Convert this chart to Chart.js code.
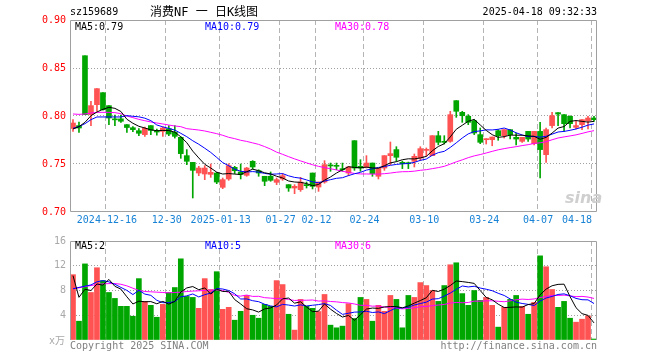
<!DOCTYPE html>
<html><head><meta charset="utf-8">
<script src="https://cdn.jsdelivr.net/npm/chart.js@4.4.1/dist/chart.umd.min.js"></script>
<style>
html,body{margin:0;padding:0;background:#fff;}
body{width:660px;height:360px;position:relative;overflow:hidden;}
canvas{position:absolute;left:0;}
.t{position:absolute;white-space:pre;font-family:"DejaVu Sans Mono","Noto Sans CJK SC",monospace;font-size:10px;line-height:12px;color:#000;}
</style></head><body>
<canvas id="kline" width="660" height="230" style="top:0;width:660px;height:230px"></canvas>
<canvas id="vol" width="660" height="130" style="top:230px;width:660px;height:130px"></canvas>
<div class="t" style="left:70px;top:6px">sz159689</div>
<div class="t" style="left:150px;top:5px;font-size:12px;line-height:14px">消费NF 一 日K线图</div>
<div class="t" style="right:63px;top:6px">2025-04-18 09:32:33</div>
<div class="t" id="pm5" style="left:75px;top:21px"></div>
<div class="t" id="pm10" style="left:205px;top:21px;color:#0000ff"></div>
<div class="t" id="pm30" style="left:335px;top:21px;color:#ff00ff"></div>
<div class="t" id="vm5" style="left:75px;top:240px"></div>
<div class="t" id="vm10" style="left:205px;top:240px;color:#0000ff"></div>
<div class="t" id="vm30" style="left:335px;top:240px;color:#ff00ff"></div>
<div class="t" style="left:49px;top:335px;color:#a8a8a8">x万</div>
<div class="t" style="left:70px;top:340px;color:#808080">Copyright 2025 SINA.COM</div>
<div class="t" style="right:63px;top:340px;color:#808080">http://finance.sina.com.cn</div>
<div class="t" style="left:565px;top:189px;font-family:'DejaVu Sans';font-weight:bold;font-style:italic;font-size:16px;line-height:18px;color:#cfcfcf">sina</div>
<script>
// ---------- data ----------
const dates = [
 "2024-12-06","2024-12-09","2024-12-10","2024-12-11","2024-12-12","2024-12-13","2024-12-16","2024-12-17","2024-12-18","2024-12-19",
 "2024-12-20","2024-12-23","2024-12-24","2024-12-25","2024-12-26","2024-12-27","2024-12-30","2024-12-31","2025-01-02","2025-01-03",
 "2025-01-06","2025-01-07","2025-01-08","2025-01-09","2025-01-10","2025-01-13","2025-01-14","2025-01-15","2025-01-16","2025-01-17",
 "2025-01-20","2025-01-21","2025-01-22","2025-01-23","2025-01-24","2025-01-27","2025-02-05","2025-02-06","2025-02-07","2025-02-10",
 "2025-02-11","2025-02-12","2025-02-13","2025-02-14","2025-02-17","2025-02-18","2025-02-19","2025-02-20","2025-02-21","2025-02-24",
 "2025-02-25","2025-02-26","2025-02-27","2025-02-28","2025-03-03","2025-03-04","2025-03-05","2025-03-06","2025-03-07","2025-03-10",
 "2025-03-11","2025-03-12","2025-03-13","2025-03-14","2025-03-17","2025-03-18","2025-03-19","2025-03-20","2025-03-21","2025-03-24",
 "2025-03-25","2025-03-26","2025-03-27","2025-03-28","2025-03-31","2025-04-01","2025-04-02","2025-04-03","2025-04-07","2025-04-08",
 "2025-04-09","2025-04-10","2025-04-11","2025-04-14","2025-04-15","2025-04-16","2025-04-17","2025-04-18"];

const tickLabels = {6:"2024-12-16",16:"12-30",25:"2025-01-13",35:"01-27",41:"02-12",49:"02-24",59:"03-10",69:"03-24",78:"04-07",87:"04-18"};

const open = [0.787,0.790,0.8628,0.8014,0.8118,0.8243,0.8108,0.797,0.797,0.791,
 0.7878,0.7847,0.7806,0.790,0.7847,0.784,0.7868,0.783,0.7778,0.7587,
 0.7517,0.7406,0.7396,0.7392,0.7406,0.7257,0.7344,0.7465,0.7417,0.7382,
 0.7528,0.743,0.7372,0.7372,0.7309,0.7344,0.7285,0.725,0.7233,0.7285,
 0.7406,0.726,0.7312,0.7486,0.7486,0.7448,0.7406,0.7743,0.7476,0.7469,
 0.751,0.7372,0.7458,0.7587,0.765,0.7517,0.751,0.7528,0.7562,0.7642,
 0.7587,0.7795,0.7736,0.7736,0.816,0.8038,0.7997,0.7951,0.7806,0.7753,
 0.7753,0.7847,0.7795,0.7858,0.7778,0.7736,0.784,0.7712,0.784,0.7597,
 0.790,0.8035,0.8014,0.7997,0.7882,0.791,0.7951,0.7979];
const high = [0.7962,0.7937,0.8628,0.8153,0.8285,0.8243,0.8108,0.801,0.801,0.791,
 0.789,0.787,0.7885,0.790,0.7865,0.7885,0.790,0.790,0.7785,0.765,
 0.7517,0.7476,0.7483,0.750,0.7413,0.7354,0.7503,0.7476,0.750,0.7465,
 0.7535,0.744,0.7372,0.7417,0.7354,0.740,0.7285,0.7285,0.7361,0.7312,
 0.7406,0.7312,0.7535,0.751,0.751,0.751,0.7476,0.7743,0.7545,0.7587,
 0.751,0.7455,0.7587,0.7729,0.768,0.753,0.752,0.7604,0.768,0.7667,
 0.7795,0.784,0.7795,0.8049,0.816,0.8049,0.8014,0.7962,0.7875,0.7764,
 0.7781,0.7858,0.7858,0.7858,0.7823,0.7778,0.784,0.784,0.7934,0.7875,
 0.8038,0.8035,0.8014,0.8003,0.7944,0.7962,0.7997,0.7997];
const low = [0.784,0.783,0.8014,0.790,0.8049,0.806,0.791,0.790,0.7934,0.783,
 0.7837,0.7795,0.7788,0.7806,0.780,0.7788,0.7795,0.777,0.7559,0.7493,
 0.7146,0.7378,0.7337,0.7361,0.7295,0.7243,0.733,0.740,0.7344,0.7372,
 0.7448,0.7372,0.7274,0.732,0.7285,0.733,0.7215,0.7191,0.7215,0.725,
 0.724,0.7215,0.730,0.7424,0.744,0.7424,0.7378,0.7434,0.7424,0.7458,
 0.7372,0.7344,0.7434,0.7493,0.7528,0.7452,0.7452,0.7469,0.7535,0.758,
 0.7587,0.770,0.7708,0.7726,0.7986,0.7934,0.791,0.7806,0.7712,0.7708,
 0.769,0.7747,0.7771,0.776,0.770,0.7726,0.7736,0.770,0.7354,0.7517,
 0.7875,0.790,0.784,0.7875,0.7865,0.7858,0.7865,0.7944];
const close = [0.7927,0.7875,0.8014,0.8108,0.8285,0.8066,0.7979,0.796,0.7945,0.788,
 0.7858,0.782,0.7872,0.785,0.7833,0.7875,0.7812,0.7788,0.7608,0.7528,
 0.7434,0.7458,0.7458,0.7413,0.7312,0.7337,0.7483,0.743,0.739,0.7458,
 0.7469,0.7406,0.732,0.733,0.7337,0.7378,0.725,0.7267,0.7312,0.7274,
 0.7267,0.7312,0.7493,0.748,0.7476,0.7441,0.7469,0.7458,0.7458,0.751,
 0.740,0.7455,0.7587,0.7608,0.757,0.7503,0.7503,0.758,0.766,0.765,
 0.7795,0.7726,0.7726,0.8014,0.8049,0.8003,0.7934,0.7823,0.7726,0.7764,
 0.7781,0.7795,0.7858,0.7806,0.776,0.7778,0.776,0.784,0.765,0.7858,
 0.8003,0.802,0.792,0.792,0.790,0.7962,0.7979,0.7962];
const volume = [10.56,3.04,12.3,7.68,11.68,9.6,7.68,6.72,5.44,5.44,
 3.84,9.92,6.24,5.6,3.68,5.76,7.68,8.48,13.12,7.04,
 6.88,5.12,9.92,8.16,11.04,4.96,5.28,3.2,4.64,7.2,
 4.0,3.52,5.76,5.44,9.6,8.96,4.16,1.6,6.56,5.44,
 5.12,4.6,7.36,2.4,1.97,2.24,5.87,3.47,6.88,6.56,
 3.04,5.6,4.64,7.2,6.56,1.97,7.2,6.88,9.28,8.8,
 8.0,6.24,8.8,12.16,12.48,7.5,5.6,8.0,6.4,6.88,
 5.6,2.08,5.28,6.56,7.2,5.44,4.16,6.08,13.6,11.84,
 8.16,5.28,6.24,3.52,2.88,3.36,3.89,0.16];

// leading moving-average values (window extends before the visible range)
const ma5Lead  = [0.7865,0.7889,0.7934,0.8003];
const ma10Lead = [0.7872,0.7889,0.792,0.7962,0.799,0.799,0.799,0.799,0.799];
const ma30Lead = [0.8021,0.8017,0.8021,0.8031,0.8038,0.8038,0.8038,0.8035,0.8024,0.800,
 0.7983,0.7965,0.7951,0.7938,0.7927,0.7917,0.7906,0.7896,0.7889,0.7868,
 0.7861,0.7854,0.7844,0.783,0.7816,0.7799,0.7778,0.7764,0.7747];
const vma5Lead  = [10.4,6.9,8.2,8.0];
const vma10Lead = [8.27,8.5,8.7,8.9,9.4,9.6,9.4,9.0,8.5];
const vma30Lead = [8.32,8.43,8.64,8.8,8.96,9.07,9.12,9.12,9.01,8.75,
 8.37,8.0,7.84,7.79,7.73,7.68,7.63,7.68,7.73,7.84,
 7.9,7.95,8.0,8.05,8.1,8.0,7.68,7.2,7.09];

// ---------- helpers ----------
function movingAvg(src, n, lead){
  return src.map((v,i)=>{
    if(i < n-1) return lead[i];
    let s=0; for(let k=i-n+1;k<=i;k++) s+=src[k]; return s/n;
  });
}
const RED='#ff5252', GREEN='#00a600';
const colors = close.map((c,i)=> c>=open[i] ? RED : GREEN);
const ma5 = movingAvg(close,5,ma5Lead), ma10 = movingAvg(close,10,ma10Lead), ma30 = movingAvg(close,30,ma30Lead);
const vma5 = movingAvg(volume,5,vma5Lead), vma10 = movingAvg(volume,10,vma10Lead), vma30 = movingAvg(volume,30,vma30Lead);
const L = close.length-1;
document.getElementById('pm5').textContent = 'MA5:' + ma5[L].toFixed(2);
document.getElementById('pm10').textContent = 'MA10:' + ma10[L].toFixed(2);
document.getElementById('pm30').textContent = 'MA30:' + ma30[L].toFixed(2);
document.getElementById('vm5').textContent = 'MA5:' + Math.floor(vma5[L]);
document.getElementById('vm10').textContent = 'MA10:' + Math.floor(vma10[L]);
document.getElementById('vm30').textContent = 'MA30:' + Math.floor(vma30[L]);

const MONO = '"DejaVu Sans Mono", monospace';
const gridX = ctx => (tickLabels[ctx.index] !== undefined) ? '#b4b4b4' : 'rgba(0,0,0,0)';

function lineDS(data,color){
  return {type:'line', data, borderColor:color, borderWidth:1, pointRadius:0, tension:0, fill:false};
}

const framePlugin = (bottom) => ({
  id:'frame',
  afterDatasetsDraw(chart){
    const {ctx, chartArea:a} = chart;
    const l=Math.round(a.left)+0.5, r=Math.round(a.right)-0.5, t=Math.round(a.top)+0.5, b=Math.round(a.bottom)-0.5;
    ctx.save(); ctx.strokeStyle='#a0a0a0'; ctx.lineWidth=1; ctx.setLineDash([]);
    ctx.beginPath();
    if(bottom){ ctx.moveTo(l,b); ctx.lineTo(r,b); }
    ctx.moveTo(l,b+ (bottom?0:0.5)); ctx.lineTo(l,t); ctx.lineTo(r,t); ctx.lineTo(r,b+(bottom?0:0.5));
    ctx.stroke(); ctx.restore();
  }
});

const xLabelPlugin = {
  id:'xlabels',
  afterDraw(chart){
    const {ctx, chartArea:a} = chart; const xs = chart.scales.x;
    ctx.save(); ctx.font = '10px ' + MONO; ctx.fillStyle = '#1883d6'; ctx.textBaseline='middle';
    Object.keys(tickLabels).forEach(k=>{
      const i = +k; const txt = tickLabels[k];
      const x = xs.getPixelForValue(i) - 2;
      if(i === dates.length-1){ ctx.textAlign='right'; ctx.fillText(txt, a.right-5, 220); }
      else { ctx.textAlign='center'; ctx.fillText(txt, x, 220); }
    });
    ctx.restore();
  }
};

// ---------- price chart ----------
new Chart(document.getElementById('kline'), {
  type:'bar',
  data:{ labels: dates, datasets:[
    lineDS(ma5,'#000000'), lineDS(ma10,'#0000ff'), lineDS(ma30,'#ff00ff'),
    {type:'bar', data: open.map((o,i)=>[o, close[i]]), backgroundColor: colors, borderWidth:0, barThickness:5, grouped:false, minBarLength:1},
    {type:'bar', data: low.map((l,i)=>[l, high[i]]), backgroundColor: colors, borderWidth:0, barThickness:1, grouped:false}
  ]},
  options:{
    responsive:false, animation:false, devicePixelRatio:1, events:[],
    layout:{padding:{left:0,right:63,top:20,bottom:0}},
    plugins:{legend:{display:false}, tooltip:{enabled:false}, title:{display:false}},
    scales:{
      x:{type:'category', offset:true, ticks:{display:false},
         grid:{offset:true, color:gridX, drawTicks:false, lineWidth:1},
         border:{display:false, dash:[5,3]},
         afterFit:s=>{ s.height = 18; }},
      y:{min:0.70, max:0.90, position:'left',
         ticks:{stepSize:0.05, color:'#ff0000', padding:4, font:{family:MONO,size:10}, callback:v=>(+v).toFixed(2)},
         grid:{drawTicks:false, color:ctx=> (ctx.tick && ctx.tick.value>0.701 && ctx.tick.value<0.899) ? '#a0a0a0' : 'rgba(0,0,0,0)'},
         border:{display:false, dash:[1,2]},
         afterFit:s=>{ s.width = 70; }}
    }
  },
  plugins:[framePlugin(true), xLabelPlugin]
});

// ---------- volume chart ----------
new Chart(document.getElementById('vol'), {
  type:'bar',
  data:{ labels: dates, datasets:[
    lineDS(vma5,'#000000'), lineDS(vma10,'#0000ff'), lineDS(vma30,'#ff00ff'),
    {type:'bar', data: volume, backgroundColor: colors, borderWidth:0, barThickness:5, grouped:false}
  ]},
  options:{
    responsive:false, animation:false, devicePixelRatio:1, events:[],
    layout:{padding:{left:0,right:63,top:11,bottom:0}},
    plugins:{legend:{display:false}, tooltip:{enabled:false}, title:{display:false}},
    scales:{
      x:{type:'category', offset:true, ticks:{display:false},
         grid:{offset:true, color:gridX, drawTicks:false, lineWidth:1},
         border:{display:false, dash:[5,3]},
         afterFit:s=>{ s.height = 20; }},
      y:{min:0, max:16, position:'left',
         ticks:{stepSize:4, color:'#a8a8a8', padding:4, font:{family:MONO,size:10}, callback:v=> v===0 ? '' : String(v)},
         grid:{drawTicks:false, color:ctx=> (ctx.tick && ctx.tick.value>0 && ctx.tick.value<16) ? '#a0a0a0' : 'rgba(0,0,0,0)'},
         border:{display:false, dash:[1,2]},
         afterFit:s=>{ s.width = 70; }}
    }
  },
  plugins:[framePlugin(false)]
});
</script>
</body></html>
